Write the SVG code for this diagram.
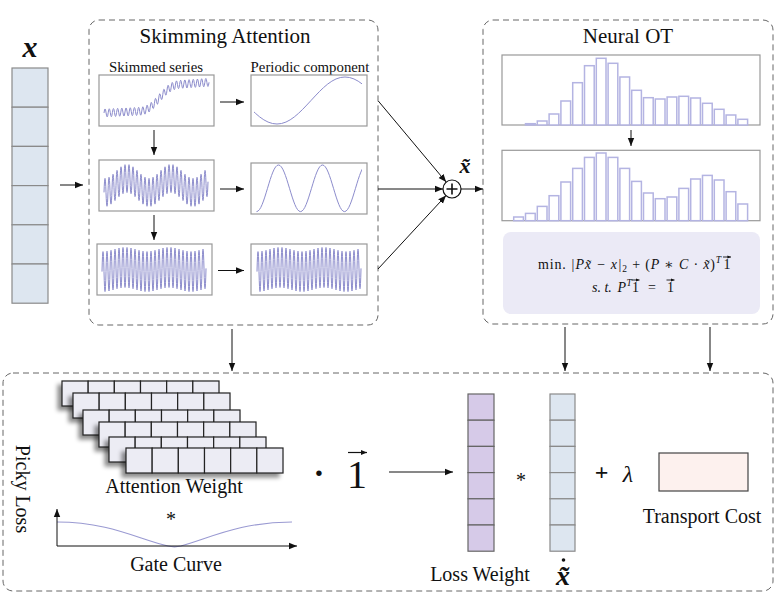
<svg xmlns="http://www.w3.org/2000/svg" xmlns:xlink="http://www.w3.org/1999/xlink" width="784" height="605" viewBox="0 0 784 605">
<style>
text{font-family:"Liberation Serif","DejaVu Serif",serif;fill:#111}
.dash{fill:none;stroke:#666;stroke-width:1;stroke-dasharray:6 4}
.panel{fill:#fff;stroke:#999;stroke-width:1.2}
.wave{fill:none;stroke:#8c8ccc;stroke-width:1}
.bar{fill:#fff;stroke:#b4b4e2;stroke-width:1.5}
.ar{fill:none;stroke:#111;stroke-width:1;marker-end:url(#ah)}
.vec{fill:none;stroke:#111;stroke-width:0.9;marker-end:url(#aht)}
.xc{fill:#dde6f0;stroke:#8a8a8a;stroke-width:1.2}
.lw{fill:#d6cae8;stroke:#666;stroke-width:1.2}
.cell{fill:#ececf4;stroke:#222;stroke-width:1.2}
.t20{font-size:20px}
.t15{font-size:14.8px}
.t21{font-size:21px}
.f{font-size:14px}
.m{font-style:italic}
</style>
<defs>
<marker id="ah" viewBox="0 0 10 10" refX="10" refY="5" markerWidth="8" markerHeight="8" markerUnits="userSpaceOnUse" orient="auto"><path d="M0,1 L10,5 L0,9 z" fill="#111"/></marker>
<marker id="ahs" viewBox="0 0 10 10" refX="10" refY="5" markerWidth="6" markerHeight="6" markerUnits="userSpaceOnUse" orient="auto"><path d="M0,1 L10,5 L0,9 z" fill="#111"/></marker>
<marker id="aht" viewBox="0 0 10 10" refX="10" refY="5" markerWidth="3.6" markerHeight="3.6" markerUnits="userSpaceOnUse" orient="auto"><path d="M0,1 L10,5 L0,9 z" fill="#111"/></marker>
<filter id="sh" x="-20%" y="-30%" width="140%" height="170%"><feDropShadow dx="-4" dy="4" stdDeviation="2.2" flood-color="#000" flood-opacity="0.45"/></filter>
<clipPath id="c1"><rect x="254" y="75" width="108" height="51"/></clipPath>
<clipPath id="c2"><rect x="254" y="160" width="108" height="54"/></clipPath>
<path id="w3" d="M0,0 q1,-40 2,0 t2,-0.17 t2,-0.32 t2,-0.45 t2,-0.54 t2,-0.59 t2,-0.59 t2,-0.54 t2,-0.45 t2,-0.32 t2,-0.17 t2,0 t2,0.17 t2,0.32 t2,0.45 t2,0.54 t2,0.59 t2,0.59 t2,0.54 t2,0.45 t2,0.32 t2,0.17 t2,0 t2,-0.17 t2,-0.32 t2,-0.45 t2,-0.54 t2,-0.59 t2,-0.59 t2,-0.54 t2,-0.45 t2,-0.32 t2,-0.17 t2,0 t2,0.17 t2,0.32 t2,0.45 t2,0.54 t2,0.59 t2,0.59 t2,0.54 t2,0.45 t2,0.32 t2,0.17 t2,0 t2,-0.17 t2,-0.32 t2,-0.45 t2,-0.54 t2,-0.59 t2,-0.59 t2,-0.54"/>
<g id="layer">
<rect class="cell" x="0" y="0" width="26.17" height="25"/>
<rect class="cell" x="26.17" y="0" width="26.17" height="25"/>
<rect class="cell" x="52.33" y="0" width="26.17" height="25"/>
<rect class="cell" x="78.5" y="0" width="26.17" height="25"/>
<rect class="cell" x="104.67" y="0" width="26.17" height="25"/>
<rect class="cell" x="130.83" y="0" width="26.17" height="25"/>
</g>
</defs>
<rect width="784" height="605" fill="#fff"/>

<g id="input-x">
<text x="30" y="57" text-anchor="middle" class="m" font-weight="bold" font-size="30">x</text>
<rect class="xc" x="12" y="68" width="36" height="39.2"/>
<rect class="xc" x="12" y="107.2" width="36" height="39.2"/>
<rect class="xc" x="12" y="146.4" width="36" height="39.2"/>
<rect class="xc" x="12" y="185.6" width="36" height="39.2"/>
<rect class="xc" x="12" y="224.8" width="36" height="39.2"/>
<rect class="xc" x="12" y="264" width="36" height="39.2"/>
</g>

<g id="skimming-attention">
<rect class="dash" x="89" y="20" width="289" height="305" rx="10"/>
<text x="225" y="43" text-anchor="middle" class="t21">Skimming Attention</text>
<text x="156" y="72" text-anchor="middle" class="t15">Skimmed series</text>
<text x="310" y="72" text-anchor="middle" class="t15">Periodic component</text>
</g>
<g id="skim-row1">
<rect class="panel" x="99" y="75" width="115" height="51"/>
<path class="wave" d="M104,113 q1.05,-8 2.1,-0.1 t2.1,-0.1 t2.1,-0.1 t2.1,-0.1 t2.1,-0.1 t2.1,-0.1 t2.1,-0.1 t2.1,-0.1 t2.1,-0.1 t2.1,-0.1 t2.1,-0.1 t2.1,-0.1 t2.1,-0.1 t2.1,-0.1 t2.1,-0.1 t2.1,-0.1 t2.1,-0.1 t2.1,-0.3 t2.1,-0.5 t2.1,-0.8 t2.1,-1.1 t2.1,-1.4 t2.1,-1.7 t2.1,-2 t2.1,-2.2 t2.1,-2.3 t2.1,-2.3 t2.1,-2.3 t2.1,-2.2 t2.1,-2 t2.1,-1.7 t2.1,-1.4 t2.1,-1.1 t2.1,-0.8 t2.1,-0.5 t2.1,-0.3 t2.1,-0.15 t2.1,-0.15 t2.1,-0.15 t2.1,-0.15 t2.1,-0.15 t2.1,-0.15 t2.1,-0.15 t2.1,-0.15 t2.1,-0.15 t2.1,-0.15 t2.1,-0.15 t2.1,-0.15 t2.1,-0.15 t2.1,-0.15"/>
<rect class="panel" x="251" y="75" width="116" height="51"/>
<path class="wave" clip-path="url(#c1)" d="M243,100.5 C254.37,112.84 264.65,124 277,124 C289.35,124 299.63,112.84 311,100.5 C322.37,88.16 332.65,77 345,77 C357.35,77 367.63,88.16 379,100.5"/>
</g>
<g id="skim-row2">
<rect class="panel" x="99" y="160" width="115" height="51"/>
<path class="wave" d="M104,192.4 q1,-28 2,0 t2,-0.56 t2,-1.08 t2,-1.51 t2,-1.81 t2,-1.97 t2,-1.97 t2,-1.81 t2,-1.51 t2,-1.08 t2,-0.56 t2,0 t2,0.56 t2,1.08 t2,1.51 t2,1.81 t2,1.97 t2,1.97 t2,1.81 t2,1.51 t2,1.08 t2,0.56 t2,0 t2,-0.56 t2,-1.08 t2,-1.51 t2,-1.81 t2,-1.97 t2,-1.97 t2,-1.81 t2,-1.51 t2,-1.08 t2,-0.56 t2,0 t2,0.56 t2,1.08 t2,1.51 t2,1.81 t2,1.97 t2,1.97 t2,1.81 t2,1.51 t2,1.08 t2,0.56 t2,0 t2,-0.56 t2,-1.08 t2,-1.51 t2,-1.81 t2,-1.97 t2,-1.97 t2,-1.81"/>
<rect class="panel" x="251" y="163" width="116" height="51"/>
<path class="wave" clip-path="url(#c2)" d="M256.5,211.6 C260.5,211.6 263.82,200.53 267.5,188.3 C271.18,176.07 274.5,165 278.5,165 C282.5,165 285.82,176.07 289.5,188.3 C293.18,200.53 296.5,211.6 300.5,211.6 C304.5,211.6 307.82,200.53 311.5,188.3 C315.18,176.07 318.5,165 322.5,165 C326.5,165 329.82,176.07 333.5,188.3 C337.18,200.53 340.5,211.6 344.5,211.6 C348.5,211.6 351.82,200.53 355.5,188.3 C359.18,176.07 362.5,165 366.5,165"/>
</g>
<g id="skim-row3">
<rect class="panel" x="97" y="244" width="115" height="51"/>
<use href="#w3" class="wave" transform="translate(102,271.6)"/>
<rect class="panel" x="251" y="244" width="116" height="51"/>
<use href="#w3" class="wave" transform="translate(257,271.6)"/>
</g>

<g id="sum">
<circle cx="452" cy="189" r="9" fill="#fff" stroke="#111" stroke-width="1.2"/>
<path d="M446.5,189h11M452,183.5v11" stroke="#111" stroke-width="1.6"/>
<text x="465" y="173" text-anchor="middle" class="m" font-weight="bold" font-size="22">x̃</text>
</g>

<g id="neural-ot">
<rect class="dash" x="483" y="20" width="290" height="304" rx="10"/>
<text x="628" y="43" text-anchor="middle" class="t21">Neural OT</text>
</g>
<g id="hist1">
<rect class="panel" x="502" y="55" width="258" height="70"/>
<rect class="bar" x="525.5" y="123.7" width="9.7" height="1.3"/>
<rect class="bar" x="537.3" y="121" width="9.7" height="4"/>
<rect class="bar" x="549.1" y="114" width="9.7" height="11"/>
<rect class="bar" x="560.9" y="101" width="9.7" height="24"/>
<rect class="bar" x="572.7" y="82.7" width="9.7" height="42.3"/>
<rect class="bar" x="584.5" y="65.7" width="9.7" height="59.3"/>
<rect class="bar" x="596.3" y="58.3" width="9.7" height="66.7"/>
<rect class="bar" x="608.1" y="63.3" width="9.7" height="61.7"/>
<rect class="bar" x="619.9" y="77" width="9.7" height="48"/>
<rect class="bar" x="631.7" y="90.3" width="9.7" height="34.7"/>
<rect class="bar" x="643.5" y="97.7" width="9.7" height="27.3"/>
<rect class="bar" x="655.3" y="99" width="9.7" height="26"/>
<rect class="bar" x="667.1" y="97" width="9.7" height="28"/>
<rect class="bar" x="678.9" y="96.3" width="9.7" height="28.7"/>
<rect class="bar" x="690.7" y="98" width="9.7" height="27"/>
<rect class="bar" x="702.5" y="103.3" width="9.7" height="21.7"/>
<rect class="bar" x="714.3" y="109.3" width="9.7" height="15.7"/>
<rect class="bar" x="726.1" y="115" width="9.7" height="10"/>
<rect class="bar" x="737.9" y="119.3" width="9.7" height="5.7"/>
</g>
<g id="hist2">
<rect class="panel" x="502" y="150.3" width="258" height="70.4"/>
<rect class="bar" x="513.7" y="217" width="9.7" height="3.7"/>
<rect class="bar" x="525.5" y="213.4" width="9.7" height="7.3"/>
<rect class="bar" x="537.3" y="206.4" width="9.7" height="14.3"/>
<rect class="bar" x="549.1" y="195.7" width="9.7" height="25"/>
<rect class="bar" x="560.9" y="182" width="9.7" height="38.7"/>
<rect class="bar" x="572.7" y="168.4" width="9.7" height="52.3"/>
<rect class="bar" x="584.5" y="157.4" width="9.7" height="63.3"/>
<rect class="bar" x="596.3" y="153" width="9.7" height="67.7"/>
<rect class="bar" x="608.1" y="157.4" width="9.7" height="63.3"/>
<rect class="bar" x="619.9" y="168.4" width="9.7" height="52.3"/>
<rect class="bar" x="631.7" y="181.4" width="9.7" height="39.3"/>
<rect class="bar" x="643.5" y="193" width="9.7" height="27.7"/>
<rect class="bar" x="655.3" y="198.7" width="9.7" height="22"/>
<rect class="bar" x="667.1" y="197" width="9.7" height="23.7"/>
<rect class="bar" x="678.9" y="188.4" width="9.7" height="32.3"/>
<rect class="bar" x="690.7" y="179" width="9.7" height="41.7"/>
<rect class="bar" x="702.5" y="175.4" width="9.7" height="45.3"/>
<rect class="bar" x="714.3" y="180" width="9.7" height="40.7"/>
<rect class="bar" x="726.1" y="191.7" width="9.7" height="29"/>
<rect class="bar" x="737.9" y="204" width="9.7" height="16.7"/>
</g>
<g id="ot-formula">
<rect x="503" y="232" width="257" height="82" rx="8" fill="#ebeaf6"/>
<text class="f" x="538" y="269" textLength="183" lengthAdjust="spacing">min. <tspan class="m">|Px̃ − x|</tspan><tspan font-size="9.5" dy="3">2</tspan><tspan dy="-3"> + (</tspan><tspan class="m">P</tspan> ∗ <tspan class="m">C</tspan> · <tspan class="m">x̃</tspan>)<tspan class="m" font-size="9.5" dy="-6">T</tspan></text>
<text class="f" x="723.5" y="269">1</text>
<line class="vec" x1="723" y1="257" x2="731" y2="257"/>
<text class="f m" x="592" y="292">s. t.</text>
<text class="f m" x="617.5" y="292">P</text>
<text class="m" x="626.5" y="286" font-size="9.5">T</text>
<text class="f" x="632" y="292">1</text>
<line class="vec" x1="631.5" y1="280" x2="639.5" y2="280"/>
<text class="f" x="652" y="292" text-anchor="middle">=</text>
<text class="f" x="667" y="292">1</text>
<line class="vec" x1="666.5" y1="280" x2="674.5" y2="280"/>
</g>

<g id="picky-loss">
<rect class="dash" x="3" y="373" width="770" height="218" rx="10"/>
<text class="t20" text-anchor="middle" transform="translate(16,489) rotate(90)">Picky Loss</text>
</g>
<g id="attention-weight">
<use href="#layer" filter="url(#sh)" transform="translate(62,381)"/>
<use href="#layer" filter="url(#sh)" transform="translate(73,393)"/>
<use href="#layer" filter="url(#sh)" transform="translate(83,410)"/>
<use href="#layer" filter="url(#sh)" transform="translate(99,422)"/>
<use href="#layer" filter="url(#sh)" transform="translate(109,437)"/>
<use href="#layer" filter="url(#sh)" transform="translate(126,448)"/>
<text x="174" y="493" text-anchor="middle" class="t20">Attention Weight</text>
<text x="171" y="526" text-anchor="middle" font-size="20">*</text>
</g>
<g id="gate-curve">
<path d="M57,522 C110,522 140,540 168,546 C172,547 177,547 181,546 C210,538 240,522 292,522" fill="none" stroke="#9a9ad2" stroke-width="1.2"/>
<text x="176" y="571" text-anchor="middle" class="t20">Gate Curve</text>
</g>
<g id="ones">
<text x="319" y="484" text-anchor="middle" font-size="34" font-weight="bold">·</text>
<text x="357" y="488" text-anchor="middle" font-size="40">1</text>
<line x1="348" y1="452.5" x2="367" y2="452.5" stroke="#111" stroke-width="1.2" marker-end="url(#ahs)"/>
</g>
<g id="loss-weight">
<rect class="lw" x="468" y="394" width="26" height="26.2"/>
<rect class="lw" x="468" y="420.2" width="26" height="26.2"/>
<rect class="lw" x="468" y="446.4" width="26" height="26.2"/>
<rect class="lw" x="468" y="472.6" width="26" height="26.2"/>
<rect class="lw" x="468" y="498.8" width="26" height="26.2"/>
<rect class="lw" x="468" y="525" width="26" height="26.2"/>
<text x="480" y="581" text-anchor="middle" class="t20">Loss Weight</text>
<text x="521" y="486.5" text-anchor="middle" font-size="20">*</text>
</g>
<g id="x-tilde-dot">
<rect class="xc" x="550" y="394" width="25" height="26.2"/>
<rect class="xc" x="550" y="420.2" width="25" height="26.2"/>
<rect class="xc" x="550" y="446.4" width="25" height="26.2"/>
<rect class="xc" x="550" y="472.6" width="25" height="26.2"/>
<rect class="xc" x="550" y="498.8" width="25" height="26.2"/>
<rect class="xc" x="550" y="525" width="25" height="26.2"/>
<text x="563" y="585" text-anchor="middle" class="m" font-weight="bold" font-size="28">x̃</text>
<circle cx="563.5" cy="560" r="1.8" fill="#111"/>
</g>
<g id="transport-cost">
<text x="601.5" y="480" text-anchor="middle" font-size="24" font-weight="bold">+</text>
<text x="628" y="482" text-anchor="middle" class="m" font-size="24">λ</text>
<rect x="659" y="453" width="89" height="38" fill="#fdf1ee" stroke="#444" stroke-width="1.2"/>
<text x="702" y="523" text-anchor="middle" class="t20">Transport Cost</text>
</g>

<g id="connectors">
<line class="ar" x1="60" y1="185" x2="83" y2="185"/>
<line class="ar" x1="220" y1="102" x2="244" y2="102"/>
<line class="ar" x1="220" y1="189" x2="244" y2="189"/>
<line class="ar" x1="218" y1="270.5" x2="244" y2="270.5"/>
<line class="ar" x1="154" y1="130" x2="154" y2="155"/>
<line class="ar" x1="154" y1="215" x2="154" y2="240"/>
<line class="ar" x1="378.3" y1="101" x2="446.2" y2="182.1"/>
<line class="ar" x1="378" y1="189" x2="443" y2="189"/>
<line class="ar" x1="378" y1="269" x2="446" y2="195.6"/>
<line class="ar" x1="461" y1="189" x2="483" y2="189"/>
<line class="ar" x1="631" y1="130" x2="631" y2="146"/>
<line class="ar" x1="232" y1="329" x2="232" y2="371"/>
<line class="ar" x1="565" y1="327" x2="565" y2="371"/>
<line class="ar" x1="710" y1="327" x2="710" y2="371"/>
<line class="ar" x1="389" y1="472" x2="453" y2="472"/>
<line class="ar" x1="57" y1="546" x2="57" y2="509" stroke-width="1.3"/>
<line class="ar" x1="57" y1="546" x2="297" y2="546" stroke-width="1.3"/>
</g>
</svg>
